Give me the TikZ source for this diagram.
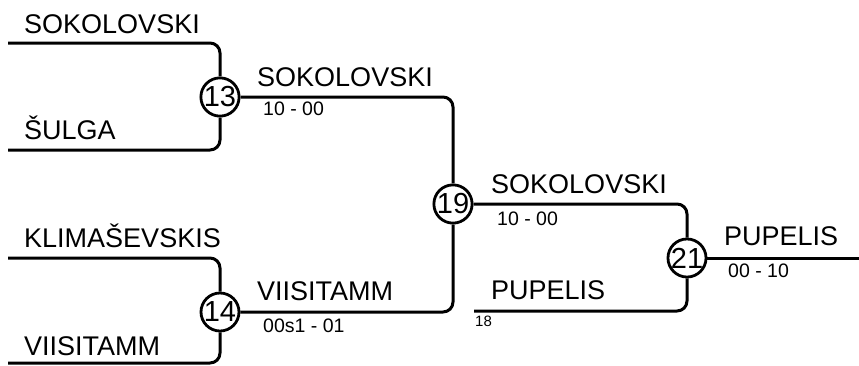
\documentclass[tikz,border=0pt]{standalone}
\usepackage{fontspec}
\setmainfont{Liberation Sans}
\usetikzlibrary{positioning,calc}

\begin{document}
\begin{tikzpicture}[x=1pt, y=-1pt,
  mt/.style={draw, circle, line width=2.8pt, minimum size=38pt, inner sep=0pt, fill=white, font=\fontsize{29}{30}\selectfont},
  ln/.style={line width=3pt, rounded corners=10pt},
  nm/.style={anchor=base west, inner sep=0pt, font=\fontsize{27}{30}\selectfont},
  sc/.style={anchor=base west, inner sep=0pt, font=\fontsize{19.5}{22}\selectfont}]
\useasboundingbox (0,0) rectangle (859,365);
% matches
\node[mt] (m13) at (220,97) {13};
\node[mt] (m14) at (220,312) {14};
\node[mt] (m19) at (453,204) {19};
\node[mt] (m21) at (687,258) {21};
% free ends
\coordinate (e1) at (8,43);
\coordinate (e2) at (8,150);
\coordinate (e3) at (8,258);
\coordinate (e4) at (8,363);
\coordinate (e18) at (474,311);
\coordinate (fin) at (859,258);
\draw[ln] (e1) -| (m13);
\draw[ln] (e2) -| (m13);
\draw[ln] (e3) -| (m14);
\draw[ln] (e4) -| (m14);
\draw[ln] (m13) -| (m19);
\draw[ln] (m14) -| (m19);
\draw[ln] (m19) -| (m21);
\draw[ln] (e18) -| (m21);
\draw[ln] (m21) -- (fin);
% names
\node[nm] (n1) at (24,33) {SOKOLOVSKI};
\node[nm] (n2) at (24,139) {ŠULGA};
\node[nm] (n3) at (24,247) {KLIMAŠEVSKIS};
\node[nm] (n4) at (24,355) {VIISITAMM};
\node[nm] (w13) at (257,86) {SOKOLOVSKI};
\node[nm] (w14) at (257,300) {VIISITAMM};
\node[nm] (w19) at (491,193) {SOKOLOVSKI};
\node[nm] (p18) at (491,299) {PUPELIS};
\node[nm] (w21) at (724,245) {PUPELIS};
% scores
\node[sc] (s13) at (263,115) {10 - 00};
\node[sc] (s14) at (263,332) {00s1 - 01};
\node[sc] (s19) at (497,225) {10 - 00};
\node[sc] (s21) at (728,277) {00 - 10};
\node[anchor=base west, inner sep=0pt, font=\fontsize{15}{18}\selectfont] (q18) at (475,326) {18};
\end{tikzpicture}
\end{document}
